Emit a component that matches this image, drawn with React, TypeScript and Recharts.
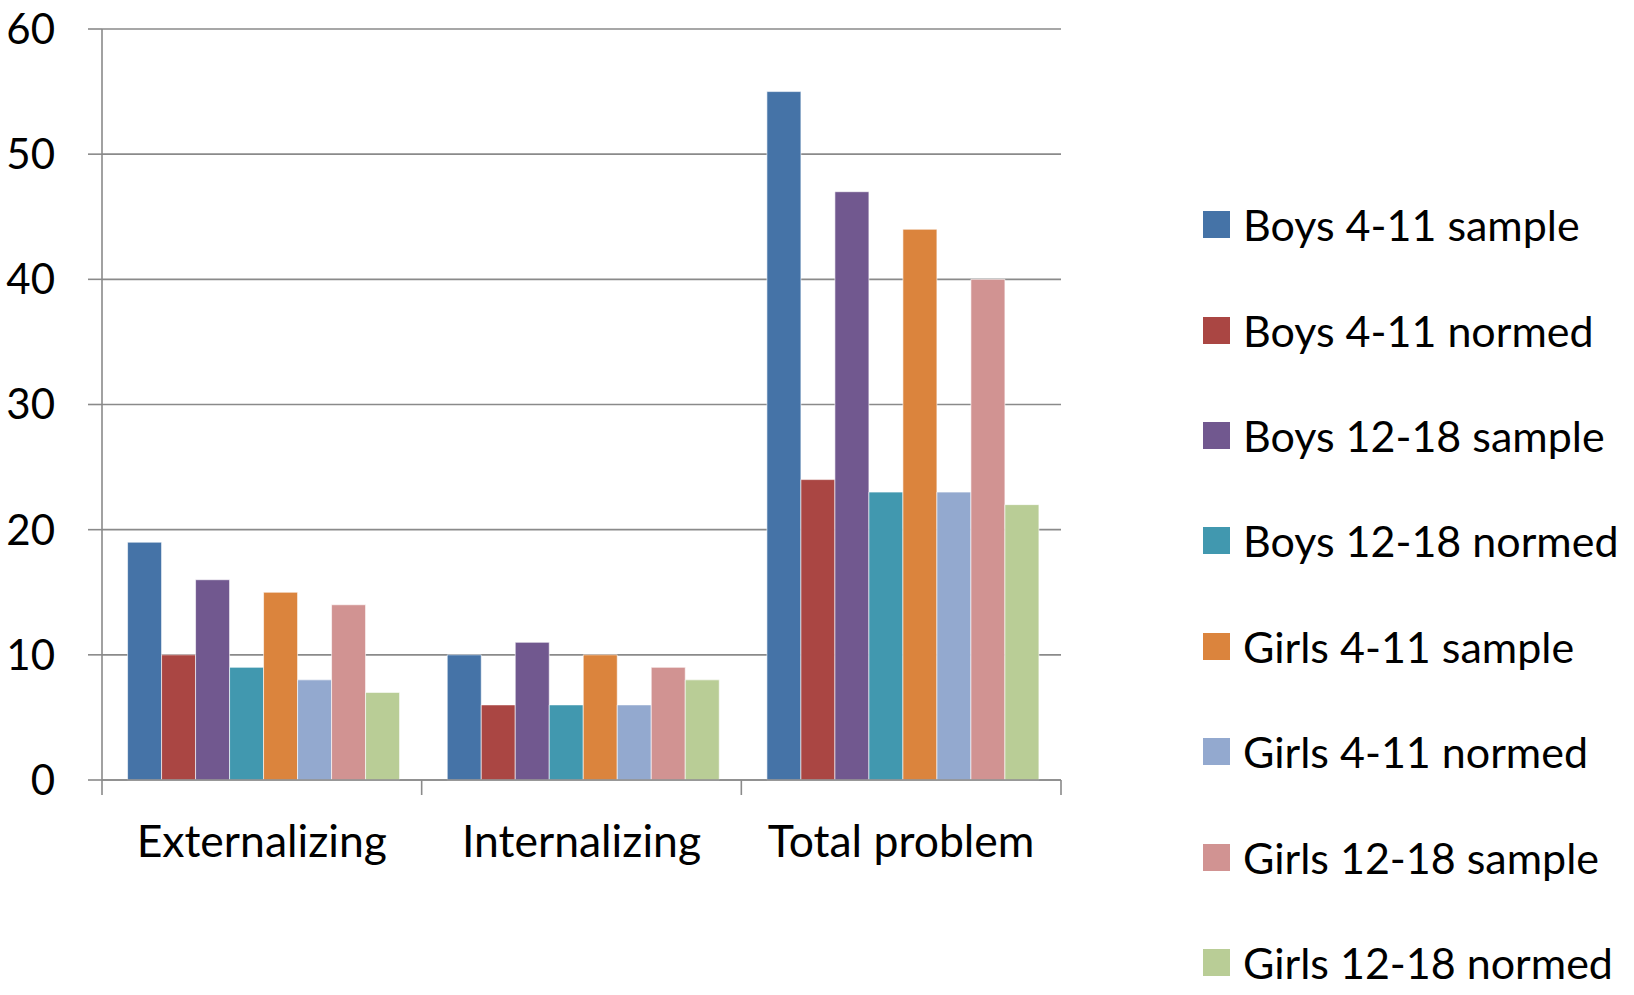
import { Bar, BarChart, CartesianGrid, Legend, XAxis, YAxis } from "recharts";

const categories = ["Externalizing", "Internalizing", "Total problem"];
const boys411Sample = [19, 10, 55];
const boys411Normed = [10, 6, 24];
const boys1218Sample = [16, 11, 47];
const boys1218Normed = [9, 6, 23];
const girls411Sample = [15, 10, 44];
const girls411Normed = [8, 6, 23];
const girls1218Sample = [14, 9, 40];
const girls1218Normed = [7, 8, 22];
const yTicks = [0, 10, 20, 30, 40, 50, 60];

const series = [
  { key: "b411s", name: "Boys 4-11 sample", values: boys411Sample, color: "#4573A7" },
  { key: "b411n", name: "Boys 4-11 normed", values: boys411Normed, color: "#AA4643" },
  { key: "b1218s", name: "Boys 12-18 sample", values: boys1218Sample, color: "#71588F" },
  { key: "b1218n", name: "Boys 12-18 normed", values: boys1218Normed, color: "#4198AF" },
  { key: "g411s", name: "Girls 4-11 sample", values: girls411Sample, color: "#DB843D" },
  { key: "g411n", name: "Girls 4-11 normed", values: girls411Normed, color: "#93A9CF" },
  { key: "g1218s", name: "Girls 12-18 sample", values: girls1218Sample, color: "#D19392" },
  { key: "g1218n", name: "Girls 12-18 normed", values: girls1218Normed, color: "#B9CD96" },
];

const data = categories.map((name, i) => {
  const row: Record<string, string | number> = { name };
  series.forEach((s) => (row[s.key] = s.values[i]));
  return row;
});

const W = 1634;
const H = 995;
const PLOT_LEFT = 102;
const PLOT_RIGHT = 1061;
const PLOT_TOP = 29;
const PLOT_BOTTOM = 780;
const BAND = (PLOT_RIGHT - PLOT_LEFT) / categories.length;
const FONT = "Lato, 'Open Sans', sans-serif";
const GRID = "#8a8a8a";

function CategoryTick(props: any) {
  const { x, payload, index } = props;
  const y = PLOT_BOTTOM;
  return (
    <g>
      <line x1={x - BAND / 2} x2={x - BAND / 2} y1={y} y2={y + 15} stroke={GRID} strokeWidth={1.6} />
      {index === categories.length - 1 && (
        <line x1={x + BAND / 2} x2={x + BAND / 2} y1={y} y2={y + 15} stroke={GRID} strokeWidth={1.6} />
      )}
      <text x={x} y={y + 77} textAnchor="middle" fontSize={44.5} fontFamily={FONT} fill="#000">
        {payload.value}
      </text>
    </g>
  );
}

function LegendBox({ payload }: any) {
  const order = series.map((s) => s.name);
  const items = [...(payload || [])].sort((a: any, b: any) => order.indexOf(a.value) - order.indexOf(b.value));
  return (
    <div style={{ fontFamily: FONT, fontSize: 43, color: "#000" }}>
      {items.map((p: any) => (
        <div key={p.value} style={{ height: 105.4, display: "flex", alignItems: "center", whiteSpace: "nowrap" }}>
          <span style={{ width: 27, height: 27, background: p.color, display: "inline-block", marginRight: 13 }} />
          <span>{p.value}</span>
        </div>
      ))}
    </div>
  );
}

export default function App() {
  return (
    <div style={{ position: "absolute", left: 0, top: 0, width: W, height: H, background: "#fff" }}>
      <BarChart
        width={W}
        height={H}
        data={data}
        barGap={0}
        barCategoryGap="8%"
        margin={{ top: PLOT_TOP, right: W - PLOT_RIGHT, bottom: 0, left: 0 }}
      >
        <CartesianGrid horizontal vertical={false} stroke={GRID} strokeWidth={1.6} />
        <XAxis
          dataKey="name"
          height={H - PLOT_BOTTOM}
          interval={0}
          tickSize={0}
          tickMargin={0}
          tickLine={false}
          axisLine={{ stroke: GRID, strokeWidth: 1.6 }}
          tick={<CategoryTick />}
        />
        <YAxis
          width={PLOT_LEFT}
          domain={[0, 60]}
          ticks={yTicks}
          interval={0}
          tickSize={14}
          tickMargin={33}
          tickLine={{ stroke: GRID, strokeWidth: 1.6 }}
          axisLine={{ stroke: GRID, strokeWidth: 1.6 }}
          tick={{ fontSize: 42, fontFamily: FONT, fill: "#000" }}
        />
        <Legend
          layout="vertical"
          align="center"
          verticalAlign="middle"
          content={<LegendBox />}
          wrapperStyle={{ left: 1203, top: 172, width: 431 }}
        />
        {series.map((s) => (
          <Bar
            key={s.key}
            dataKey={s.key}
            name={s.name}
            fill={s.color}
            stroke="#ffffff"
            strokeOpacity={0.6}
            strokeWidth={1}
            isAnimationActive={false}
          />
        ))}
      </BarChart>
    </div>
  );
}
